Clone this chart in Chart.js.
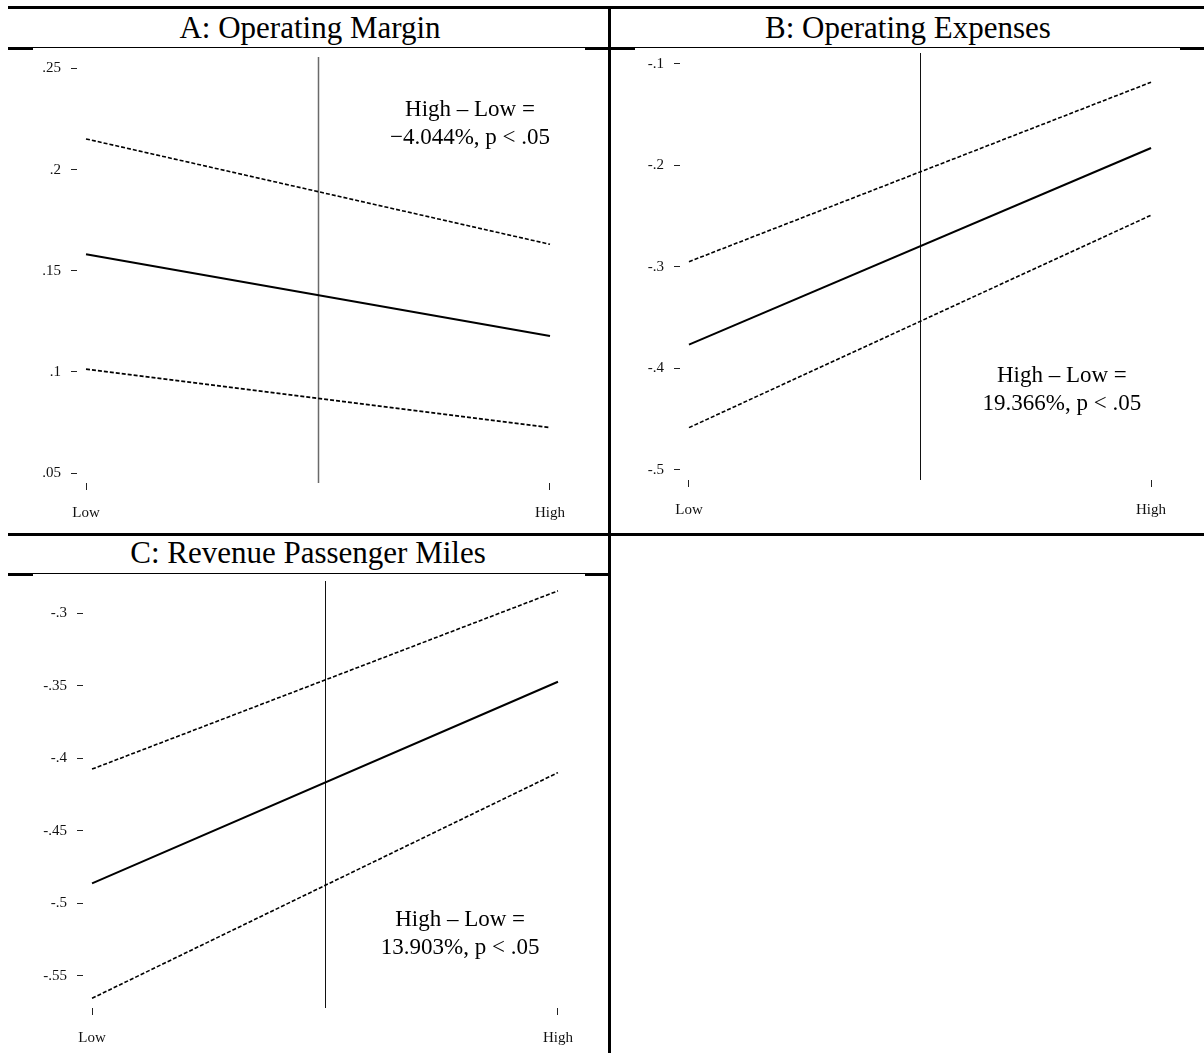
<!DOCTYPE html>
<html>
<head>
<meta charset="utf-8">
<script src="https://cdn.jsdelivr.net/npm/chart.js@4.4.1/dist/chart.umd.min.js"></script>
<style>
  html, body { margin: 0; padding: 0; background: #fff; }
  #page { position: relative; width: 1204px; height: 1053px; overflow: hidden; background: #fff;
          font-family: "Liberation Serif", "Times New Roman", serif; }
  .rule { position: absolute; background: #000; }
  .head { position: absolute; font-size: 31px; line-height: 31px; text-align: center; color: #000; white-space: nowrap; }
  canvas { position: absolute; }
</style>
</head>
<body>
<div id="page">
  <!-- frame rules -->
  <div class="rule" style="left:8px;top:6px;width:1196px;height:3px"></div>
  <div class="rule" style="left:608px;top:6px;width:3px;height:1047px"></div>
  <div class="rule" style="left:8px;top:47px;width:1196px;height:1px"></div>
  <div class="rule" style="left:8px;top:47px;width:25px;height:3px"></div>
  <div class="rule" style="left:585px;top:47px;width:50px;height:3px"></div>
  <div class="rule" style="left:1180px;top:47px;width:24px;height:3px"></div>
  <div class="rule" style="left:8px;top:533px;width:1196px;height:3px"></div>
  <div class="rule" style="left:8px;top:573px;width:600px;height:1px"></div>
  <div class="rule" style="left:8px;top:573px;width:25px;height:3px"></div>
  <div class="rule" style="left:585px;top:573px;width:23px;height:3px"></div>

  <!-- panel headers -->
  <div class="head" style="left:8px;width:604px;top:12px">A: Operating Margin</div>
  <div class="head" style="left:611px;width:594px;top:12px">B: Operating Expenses</div>
  <div class="head" style="left:8px;width:600px;top:537px">C: Revenue Passenger Miles</div>

  <canvas id="panelA" width="600" height="485" style="left:8px;top:48px"></canvas>
  <canvas id="panelB" width="593" height="485" style="left:611px;top:48px"></canvas>
  <canvas id="panelC" width="600" height="477" style="left:8px;top:576px"></canvas>
</div>

<script>
// x positions of the two evaluation points and their labels
const xLevels = [0, 1];
const xTickLabels = ['Low', 'High'];
const midpoint = 0.5;

// A: Operating Margin — fitted value and confidence bounds at Low / High
const marginFit   = [0.1582, 0.11776];
const marginUpper = [0.2152, 0.1631];
const marginLower = [0.1014, 0.0725];
const marginTicks = [0.05, 0.10, 0.15, 0.20, 0.25];
const marginNote  = ['High \u2013 Low =', '\u22124.044%, p < .05'];

// B: Operating Expenses
const expenseFit   = [-0.3765, -0.18284];
const expenseUpper = [-0.2948, -0.1180];
const expenseLower = [-0.4583, -0.2490];
const expenseTicks = [-0.5, -0.4, -0.3, -0.2, -0.1];
const expenseNote  = ['High \u2013 Low =', '19.366%, p < .05'];

// C: Revenue Passenger Miles
const rpmFit   = [-0.4862, -0.34717];
const rpmUpper = [-0.4074, -0.2845];
const rpmLower = [-0.5654, -0.4098];
const rpmTicks = [-0.55, -0.50, -0.45, -0.40, -0.35, -0.30];
const rpmNote  = ['High \u2013 Low =', '13.903%, p < .05'];

const SERIF = '"Liberation Serif", "Times New Roman", serif';

// vertical reference line plus the in-plot difference note
const refMarks = {
  id: 'refMarks',
  beforeDatasetsDraw(chart, args, opts) {
    const { ctx, chartArea, scales } = chart;
    const x = Math.round(scales.x.getPixelForValue(opts.lineAt)) + 0.5;
    ctx.save();
    ctx.strokeStyle = opts.lineColor;
    ctx.lineWidth = opts.lineWidth;
    ctx.beginPath();
    ctx.moveTo(x, chartArea.top);
    ctx.lineTo(x, chartArea.bottom);
    ctx.stroke();
    ctx.restore();
  },
  afterDatasetsDraw(chart, args, opts) {
    const { ctx, scales } = chart;
    const cx = scales.x.getPixelForValue(opts.noteAt[0]);
    const cy = scales.y.getPixelForValue(opts.noteAt[1]);
    ctx.save();
    ctx.font = '23px ' + SERIF;
    ctx.fillStyle = '#000';
    ctx.textAlign = 'center';
    ctx.textBaseline = 'middle';
    const n = opts.note.length;
    opts.note.forEach((t, i) => ctx.fillText(t, cx, cy + (i - (n - 1) / 2) * 28.5));
    ctx.restore();
  }
};

const fmtTick = v => {
  const s = String(+Number(v).toFixed(2));
  return s.replace(/^(-?)0\./, '$1.');
};

function drawPanel(id, fit, upper, lower, yTicks, yRange, note, noteAt, box, vline) {
  const pts = arr => xLevels.map((x, i) => ({ x: x, y: arr[i] }));
  const band = { borderColor: '#000', borderWidth: 1.6, borderDash: [4, 2],
                 pointRadius: 0, fill: false, tension: 0 };
  new Chart(document.getElementById(id), {
    type: 'line',
    data: {
      datasets: [
        Object.assign({ data: pts(upper) }, band),
        { data: pts(fit), borderColor: '#000', borderWidth: 2, pointRadius: 0, fill: false, tension: 0 },
        Object.assign({ data: pts(lower) }, band)
      ]
    },
    options: {
      responsive: false,
      animation: false,
      events: [],
      layout: { padding: { top: box.top, right: box.right, left: 0, bottom: 0 } },
      plugins: {
        legend: { display: false },
        tooltip: { enabled: false },
        refMarks: { lineAt: midpoint, lineColor: vline.color, lineWidth: vline.width, note: note, noteAt: noteAt }
      },
      scales: {
        x: {
          type: 'linear', bounds: 'data', min: -0.0194, max: 1.0194,
          afterBuildTicks: s => { s.ticks = xLevels.map(v => ({ value: v })); },
          afterFit: s => { s.height = box.xh; s.paddingLeft = 0; s.paddingRight = 0; },
          border: { display: false },
          grid: { drawOnChartArea: false, drawTicks: true, tickLength: 7, tickColor: '#222', tickWidth: 1 },
          ticks: { padding: 14, color: '#111', maxRotation: 0, autoSkip: false,
                   font: { family: SERIF, size: 15 },
                   callback: (v, i) => xTickLabels[i] }
        },
        y: {
          type: 'linear', bounds: 'data', min: yRange[0], max: yRange[1],
          afterBuildTicks: s => { s.ticks = yTicks.map(v => ({ value: v })); },
          afterFit: s => { s.width = box.yw; s.paddingTop = 0; s.paddingBottom = 0; },
          border: { display: false },
          grid: { drawOnChartArea: false, drawTicks: true, tickLength: 6, tickColor: '#222', tickWidth: 1 },
          ticks: { padding: 10, color: '#111', autoSkip: false,
                   font: { family: SERIF, size: 15 },
                   callback: v => fmtTick(v) }
        }
      }
    },
    plugins: [refMarks]
  });
}

drawPanel('panelA', marginFit, marginUpper, marginLower, marginTicks, [0.0451, 0.2557],
  marginNote, [0.8276, 0.2226], { top: 9, right: 49, yw: 69, xh: 50 }, { color: '#6a6a6a', width: 1.5 });

drawPanel('panelB', expenseFit, expenseUpper, expenseLower, expenseTicks, [-0.5099, -0.0892],
  expenseNote, [0.807, -0.4212], { top: 5, right: 44, yw: 69, xh: 53 }, { color: '#111', width: 1 });

drawPanel('panelC', rpmFit, rpmUpper, rpmLower, rpmTicks, [-0.5721, -0.2777],
  rpmNote, [0.79, -0.5209], { top: 5, right: 41, yw: 75, xh: 45 }, { color: '#111', width: 1 });
</script>
</body>
</html>
